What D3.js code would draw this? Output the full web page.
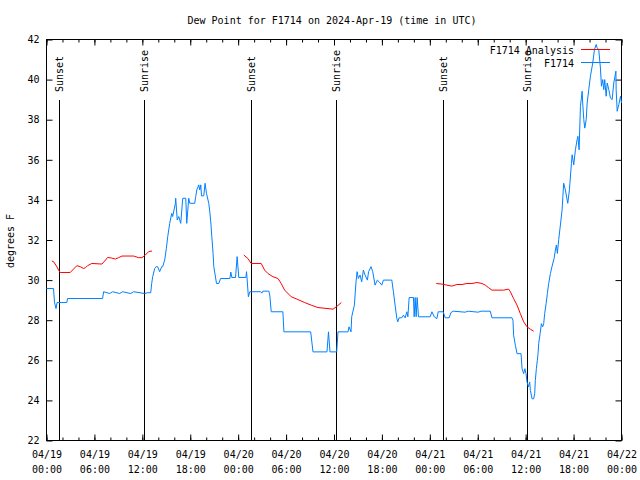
<!DOCTYPE html>
<html>
<head>
<meta charset="utf-8">
<script src="https://cdn.jsdelivr.net/npm/d3@7"></script>
<style>
  html, body { margin: 0; padding: 0; background: #fff; }
  svg { display: block; font-family: "DejaVu Sans Mono", monospace; font-size: 10px; }
</style>
</head>
<body>
<svg id="chart" width="640" height="480"></svg>
<script>
// ---------- DATA (hours since 2024-04-19 00:00 UTC, degrees F) ----------
const startTime = Date.UTC(2024, 3, 19, 0, 0);
const titleText = "Dew Point for F1714 on 2024-Apr-19 (time in UTC)";
const yLabel = "degrees F";
const yTicks = [22, 24, 26, 28, 30, 32, 34, 36, 38, 40, 42];
const seriesNames = ["F1714 Analysis", "F1714"];

const sunEvents = [
  ["Sunset", 1.60], ["Sunrise", 12.27],
  ["Sunset", 25.61], ["Sunrise", 36.29],
  ["Sunset", 49.69], ["Sunrise", 60.21]
];

// Analysis (red); null marks a gap
const analysisData = [
  [0.66,30.95],[0.88,30.92],[1.25,30.7],[1.51,30.5],[1.72,30.38],[2.97,30.38],[3.51,30.6],
  [3.80,30.72],[4.23,30.67],[4.64,30.58],[4.89,30.62],[5.14,30.72],[5.68,30.83],[6.94,30.8],
  [7.28,30.95],[7.65,31.13],[8.15,31.1],[8.62,31.05],[9.03,31.12],[9.45,31.2],[10.91,31.2],
  [11.54,31.12],[11.95,31.12],[12.38,31.25],[12.79,31.42],[13.21,31.45],
  [18.0,null],
  [24.71,31.25],[25.21,31.08],[25.63,30.83],[26.88,30.83],[27.31,30.5],[27.72,30.33],
  [28.35,30.17],[28.98,30.08],[29.39,29.83],[29.82,29.5],[30.64,29.17],[31.48,29.03],
  [32.33,28.88],[33.15,28.75],[33.99,28.63],[35.25,28.58],[35.88,28.55],[36.29,28.67],[36.92,28.88],
  [42.0,null],
  [48.80,29.83],[49.51,29.8],[50.14,29.75],[50.76,29.7],[51.39,29.78],[52.02,29.78],[52.65,29.83],
  [53.27,29.83],[53.90,29.88],[54.53,29.83],[54.94,29.75],[55.36,29.62],[55.78,29.5],[57.23,29.5],
  [57.87,29.55],[58.08,29.42],[58.49,29.08],[58.92,28.75],[59.33,28.33],[59.75,27.92],
  [60.17,27.67],[60.59,27.55],[61.00,27.45]
];

// Observations (blue)
const obsData = [
  [0.00,29.58],[0.88,29.58],[1.00,28.9],[1.19,28.58],[1.32,28.88],[2.55,28.88],[2.63,29.08],
  [7.02,29.08],[7.15,29.42],[7.90,29.33],[8.28,29.42],[9.16,29.33],[9.53,29.42],[10.54,29.33],
  [10.91,29.42],[12.29,29.33],[12.67,29.37],[13.05,29.37],[13.17,29.83],[13.30,30.17],
  [13.55,30.58],[13.74,30.67],[13.92,30.67],[14.17,30.42],[14.43,30.67],[14.55,30.67],
  [14.80,31.0],[15.01,31.58],[15.18,32.17],[15.43,32.83],[15.68,33.33],[15.80,33.17],
  [16.14,33.83],[16.18,34.08],[16.37,33.0],[16.56,33.17],[16.68,33.0],[16.81,32.83],
  [17.06,34.08],[17.44,34.08],[17.56,32.83],[17.81,34.08],[17.94,33.83],[18.56,33.83],
  [18.69,34.17],[18.82,34.5],[19.07,34.75],[19.19,34.5],[19.32,34.75],[19.41,34.2],
  [19.69,34.2],[19.86,34.83],[20.03,34.33],[20.32,33.83],[20.45,33.4],[20.57,32.9],
  [20.70,32.17],[20.86,31.33],[20.95,30.67],[21.29,29.83],[21.58,29.83],[21.79,30.08],
  [22.96,30.08],[23.08,30.4],[23.21,30.13],[23.67,30.13],[23.87,31.17],[24.08,30.13],
  [24.96,30.13],[25.05,30.42],[25.28,29.17],[25.46,29.42],[26.81,29.42],[26.97,29.35],
  [27.10,29.45],[27.85,29.45],[27.97,29.2],[28.14,28.42],[29.60,28.42],[29.73,27.42],
  [33.08,27.42],[33.37,26.42],[35.12,26.42],[35.31,27.42],[35.50,26.42],[36.34,26.42],
  [36.50,27.42],[37.76,27.42],[37.88,27.67],[38.13,27.42],[38.22,28.17],[38.55,28.75],
  [38.76,29.92],[38.89,30.42],[39.05,30.08],[39.26,30.25],[39.47,29.92],[39.68,30.5],
  [39.89,30.25],[40.18,30.0],[40.33,30.42],[40.64,30.67],[40.85,30.42],[41.14,29.75],
  [41.43,30.0],[41.64,29.92],[41.98,29.75],[42.19,30.0],[43.24,30.0],[43.44,29.42],
  [43.65,28.75],[43.87,28.08],[43.99,27.92],[44.15,28.12],[44.49,28.12],[44.69,28.25],
  [44.91,28.12],[45.12,28.42],[45.25,28.17],[45.41,29.13],[45.95,29.13],[46.04,28.17],
  [46.16,29.13],[46.29,28.17],[46.41,29.13],[46.58,28.17],[48.04,28.17],[48.26,28.42],
  [48.55,28.17],[48.88,28.08],[49.05,28.42],[49.67,28.42],[49.92,28.12],[50.42,28.12],
  [50.64,28.38],[50.93,28.45],[52.42,28.4],[52.80,28.45],[54.05,28.4],[54.42,28.45],
  [55.57,28.45],[55.78,28.12],[58.29,28.12],[58.41,28.0],[58.49,27.25],[58.71,26.75],
  [58.92,26.33],[59.42,26.33],[59.55,25.58],[59.75,25.33],[59.90,25.58],[60.05,25.33],
  [60.17,24.92],[60.34,24.67],[60.50,24.92],[60.59,24.5],[60.80,24.08],[61.00,24.08],
  [61.13,24.33],[61.21,25.0],[61.34,25.58],[61.46,26.0],[61.55,26.33],[61.63,26.83],
  [61.81,27.33],[61.97,27.83],[62.13,27.67],[62.26,27.83],[62.38,28.33],[62.56,28.83],
  [62.72,29.33],[62.88,29.83],[63.10,30.33],[63.31,30.7],[63.56,31.08],[63.72,31.5],
  [63.85,31.75],[63.97,31.33],[64.14,32.03],[64.35,32.75],[64.56,33.5],[64.66,34.17],
  [64.76,34.83],[64.97,34.5],[65.27,33.83],[65.48,34.5],[65.54,34.83],[65.73,35.83],
  [65.82,36.25],[66.02,35.75],[66.23,36.5],[66.44,37.0],[66.54,37.17],[66.69,36.5],
  [66.86,38.67],[67.07,39.42],[67.14,38.83],[67.28,38.0],[67.40,37.58],[67.58,38.0],
  [67.70,38.83],[67.90,39.5],[68.11,40.17],[68.40,40.83],[68.61,41.5],[68.83,41.75],
  [68.95,41.58],[69.15,41.5],[69.36,40.58],[69.49,39.67],[69.65,40.0],[69.78,39.5],
  [69.90,40.0],[70.08,39.17],[70.21,39.83],[70.41,39.5],[70.62,39.08],[70.83,39.0],
  [71.03,39.83],[71.30,40.42],[71.33,39.5],[71.46,38.42],[71.66,38.75],[71.88,39.17],[72.00,38.83]
];

// ---------- CHART ----------
const toDate = h => new Date(startTime + h * 3600000);
const svg = d3.select("#chart");
const L = 46.5, R = 621.5, T = 39.5, B = 440.5;
const x = d3.scaleUtc().domain([toDate(0), toDate(72)]).range([L, R]);
const y = d3.scaleLinear().domain([22, 42]).range([B, T]);
const red = "#ff0000", blue = "#0080ff";

// title
svg.append("text").attr("x", 332).attr("y", 24).attr("text-anchor", "middle").text(titleText);

// y label
svg.append("text").attr("transform", "translate(14,241) rotate(-90)")
  .attr("text-anchor", "middle").text(yLabel);

function clean(g) { g.select(".domain").remove(); g.selectAll(".tick line").attr("stroke", "#000"); }

// bottom axis major with 2-line labels
const fmtD = d3.utcFormat("%m/%d"), fmtT = d3.utcFormat("%H:%M");
const gx = svg.append("g").attr("transform", `translate(0,${B})`)
  .call(d3.axisBottom(x).ticks(d3.utcHour.every(6)).tickSizeInner(-6).tickSizeOuter(0).tickPadding(10).tickFormat(""))
  .call(clean);
gx.selectAll(".tick").append("text").attr("fill", "#000").attr("text-anchor", "middle")
  .attr("font-family", "DejaVu Sans Mono").attr("font-size", 10)
  .each(function(d) {
    const t = d3.select(this);
    t.append("tspan").attr("x", 0).attr("y", 17).text(fmtD(d));
    t.append("tspan").attr("x", 0).attr("y", 32).text(fmtT(d));
  });
svg.append("g").attr("transform", `translate(0,${B})`)
  .call(d3.axisBottom(x).ticks(d3.utcHour.every(2)).tickSizeInner(-3).tickSizeOuter(0).tickFormat(""))
  .call(clean);
// top mirror
svg.append("g").attr("transform", `translate(0,${T})`)
  .call(d3.axisTop(x).ticks(d3.utcHour.every(6)).tickSizeInner(-6).tickSizeOuter(0).tickFormat(""))
  .call(clean);
svg.append("g").attr("transform", `translate(0,${T})`)
  .call(d3.axisTop(x).ticks(d3.utcHour.every(2)).tickSizeInner(-3).tickSizeOuter(0).tickFormat(""))
  .call(clean);

// y axes
const gy = svg.append("g").attr("transform", `translate(${L},0)`)
  .call(d3.axisLeft(y).tickValues(yTicks).tickSizeInner(-6).tickSizeOuter(0).tickPadding(7).tickFormat(d3.format("d")))
  .call(clean);
gy.selectAll(".tick text").attr("font-family", "DejaVu Sans Mono").attr("font-size", 10).attr("fill", "#000");
svg.append("g").attr("transform", `translate(${R},0)`)
  .call(d3.axisRight(y).tickValues(yTicks).tickSizeInner(-6).tickSizeOuter(0).tickFormat(""))
  .call(clean);

// frame
svg.append("rect").attr("x", L).attr("y", T).attr("width", R - L).attr("height", B - T)
  .attr("fill", "none").attr("stroke", "#000");

// sun events
const sg = svg.append("g");
sunEvents.forEach(([name, h]) => {
  const px = Math.round(x(toDate(h))) + 0.5;
  sg.append("line").attr("x1", px).attr("x2", px).attr("y1", 100).attr("y2", B).attr("stroke", "#000");
  sg.append("text").attr("transform", `translate(${px},92) rotate(-90)`)
    .attr("dy", "0.35em").text(name);
});

// lines
const line = d3.line().defined(d => d[1] !== null).x(d => x(toDate(d[0]))).y(d => y(d[1]));
svg.append("path").datum(analysisData).attr("d", line).attr("fill", "none").attr("stroke", red).attr("stroke-width", 1);
svg.append("path").datum(obsData).attr("d", line).attr("fill", "none").attr("stroke", blue).attr("stroke-width", 1);

// legend
const legColors = [red, blue];
seriesNames.forEach((n, i) => {
  const ly = 50 + i * 13;
  svg.append("text").attr("x", 574).attr("y", ly).attr("dy", "0.35em").attr("text-anchor", "end").text(n);
  svg.append("line").attr("x1", 581).attr("x2", 610).attr("y1", ly - 0.5).attr("y2", ly - 0.5).attr("stroke", legColors[i]);
});
</script>
</body>
</html>
